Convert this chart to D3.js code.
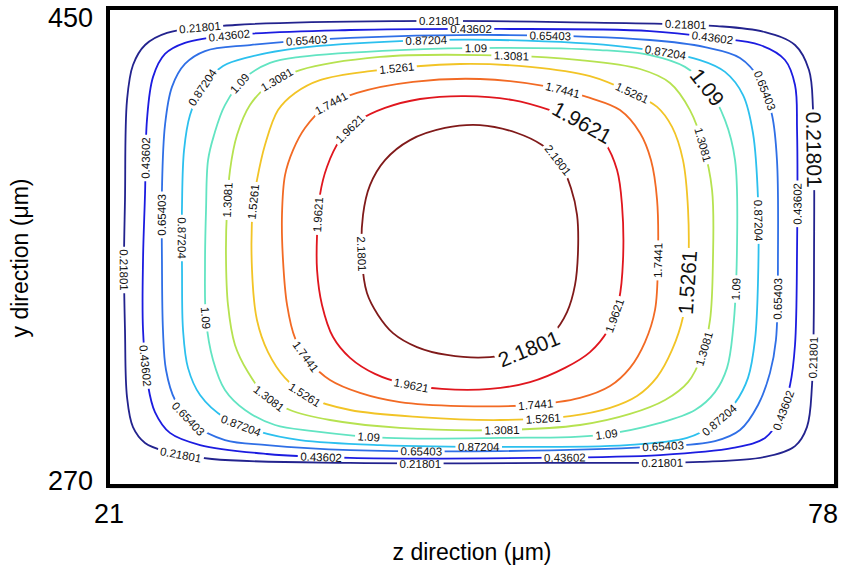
<!DOCTYPE html>
<html>
<head>
<meta charset="utf-8">
<script src="https://cdn.jsdelivr.net/npm/d3@7"></script>
<style>
  body { margin: 0; background: #fff; }
  svg { display: block; }
</style>
</head>
<body>
<script>
// Axis extents and tick labels
const zTicks = [21, 78];
const yTicks = [270, 450];
const xTitle = "z direction (\u03bcm)";
const yTitle = "y direction (\u03bcm)";

// Contour levels
const levels = [0.21801, 0.43602, 0.65403, 0.87204, 1.09, 1.3081, 1.5261, 1.7441, 1.9621, 2.1801];

// Closed contour paths, [z (um), y (um)] vertices, one array per level
const c021801 = [[22.18,377.9],[22.34,415.8],[22.81,429.1],[23.76,436.7],[25.49,441.3],[30.84,444.3],[43.83,445.8],[56.43,445.4],[68.79,443.9],[72.57,441.6],[74.93,436.7],[76.03,427.2],[76.35,412.0],[76.43,358.9],[76.27,307.6],[75.87,291.6],[74.93,284.4],[72.57,280.3],[67.45,278.4],[55.64,278.0],[39.90,278.0],[29.03,279.5],[25.33,282.5],[23.76,285.6],[22.81,291.6],[22.34,303.0],[22.18,328.5],[22.10,353.2]];
const c043602 = [[23.76,380.5],[23.91,408.2],[24.39,424.6],[25.33,433.3],[26.90,437.5],[30.68,440.5],[39.90,442.4],[51.70,442.8],[63.51,442.0],[68.63,439.4],[72.17,436.7],[74.14,431.0],[74.93,421.5],[75.09,404.4],[75.09,358.9],[74.93,322.8],[74.54,307.6],[73.75,295.1],[72.57,287.5],[70.05,283.7],[64.30,281.0],[54.07,279.9],[39.90,279.9],[33.36,281.4],[28.09,284.8],[25.72,289.4],[24.54,297.3],[23.99,307.6],[23.60,328.5],[23.60,355.1]];
const c065403 = [[25.09,381.6],[25.33,406.3],[25.88,420.8],[26.90,429.5],[28.48,434.4],[32.02,436.7],[39.90,439.4],[51.70,440.5],[63.51,438.6],[67.84,435.9],[70.60,431.8],[72.17,423.4],[73.12,410.1],[73.51,393.0],[73.59,358.9],[73.43,324.7],[72.96,312.2],[72.02,300.0],[70.60,290.5],[68.63,286.3],[63.51,284.1],[51.70,282.5],[39.90,282.9],[33.36,284.8],[30.05,286.7],[27.69,292.4],[26.12,301.9],[25.41,313.3],[25.17,328.5],[25.09,355.1]];
const c087204 = [[26.67,376.0],[26.83,396.8],[27.30,410.1],[28.24,420.4],[29.90,428.7],[32.02,432.2],[35.96,435.6],[43.83,438.2],[51.70,438.6],[61.70,435.9],[67.45,431.0],[69.42,426.5],[70.84,417.7],[71.62,403.3],[72.02,377.9],[72.02,347.5],[71.78,324.7],[71.23,310.3],[70.21,300.8],[68.47,292.4],[66.43,287.5],[61.70,284.8],[51.70,284.1],[42.26,284.8],[35.96,286.7],[32.81,289.8],[30.05,295.1],[28.09,303.8],[27.14,314.1],[26.75,328.5],[26.67,351.3]];
const c109 = [[28.56,374.1],[28.72,393.0],[29.19,402.5],[30.05,413.9],[31.63,424.2],[33.60,429.9],[35.96,432.2],[43.83,434.8],[51.70,435.6],[59.58,434.8],[63.51,432.9],[66.27,428.4],[68.08,420.4],[69.42,408.2],[70.21,393.0],[70.36,358.9],[70.05,328.5],[69.58,314.1],[68.63,304.9],[67.06,298.1],[64.30,293.2],[59.58,288.6],[51.70,287.5],[42.81,287.5],[36.98,290.1],[33.99,292.4],[31.63,298.1],[30.05,305.7],[29.11,317.1],[28.56,332.3],[28.48,353.2]];
const c13081 = [[30.21,374.1],[30.45,389.2],[31.00,402.5],[32.02,413.9],[33.60,421.9],[35.96,427.2],[42.26,432.2],[50.13,432.9],[58.00,431.0],[62.73,427.6],[65.09,422.3],[66.66,412.0],[67.69,398.7],[68.40,381.6],[68.47,355.1],[68.24,332.3],[67.61,319.0],[66.51,308.7],[64.70,301.9],[61.94,296.6],[58.00,292.4],[51.70,290.5],[43.83,291.3],[38.32,294.3],[35.17,298.1],[33.20,303.8],[31.86,312.5],[30.84,322.8],[30.29,338.0],[30.13,357.0]];
const c15261 = [[32.26,376.0],[32.57,385.4],[33.20,398.7],[34.23,412.0],[35.57,418.5],[37.53,423.4],[41.47,426.8],[48.56,429.5],[54.07,428.4],[58.79,424.9],[61.94,418.9],[64.07,413.2],[65.25,405.6],[66.11,393.0],[66.51,374.1],[66.51,351.3],[66.11,333.4],[65.25,320.9],[64.07,310.6],[62.49,303.4],[60.37,298.9],[57.22,295.8],[51.70,294.3],[45.41,295.4],[39.90,298.1],[36.75,302.7],[34.78,310.3],[33.44,320.1],[32.57,332.3],[32.18,351.3]];
const c17441 = [[34.54,372.2],[34.78,387.3],[35.41,396.8],[36.35,405.2],[37.93,413.2],[40.45,418.5],[44.86,422.7],[50.13,423.8],[55.25,421.1],[58.79,416.6],[61.15,412.0],[62.73,403.3],[63.59,393.0],[64.07,377.9],[64.14,355.1],[63.91,336.1],[63.12,323.9],[61.94,314.1],[60.37,307.2],[58.00,302.7],[54.07,300.0],[48.56,299.6],[43.83,301.1],[40.68,304.6],[38.32,309.5],[36.75,316.3],[35.57,325.4],[34.94,338.0],[34.62,355.1]];
const c19621 = [[37.30,364.6],[37.53,379.8],[38.08,390.4],[39.11,400.6],[40.68,408.2],[42.65,412.8],[45.41,416.2],[48.95,417.3],[52.73,415.8],[55.64,412.0],[58.40,406.7],[59.97,399.5],[60.92,389.2],[61.31,376.0],[61.39,355.1],[61.07,339.9],[60.21,328.5],[58.79,320.1],[56.82,314.1],[54.07,308.7],[50.92,306.1],[47.14,306.1],[44.23,308.0],[41.86,311.8],[39.90,317.9],[38.56,325.8],[37.69,338.0],[37.30,351.3]];
const c21801 = [[50.13,406.3],[53.04,403.3],[55.01,398.7],[56.43,391.9],[57.29,382.4],[57.77,372.2],[57.85,358.9],[57.61,345.6],[56.98,335.3],[55.88,327.3],[54.07,321.6],[50.92,318.2],[47.53,319.0],[45.17,322.0],[43.28,327.3],[42.10,334.2],[41.23,342.5],[40.84,355.1],[40.92,372.2],[41.47,383.5],[42.65,393.0],[44.62,400.6],[47.37,405.2]];
const contours = [c021801, c043602, c065403, c087204, c109, c13081, c15261, c17441, c19621, c21801];

// Inline level labels: [level index, z, y]
const labelSpots = [
  [0,28.09,442.0],[0,46.98,446.2],[0,66.27,444.3],[0,76.35,317.9],[0,64.46,278.0],[0,45.41,277.6],[0,26.51,281.0],[0,22.10,351.3],
  [1,30.45,439.4],[1,49.42,442.4],[1,68.47,440.1],[1,75.09,376.7],[1,74.14,298.1],[1,56.82,279.9],[1,37.69,280.3],[1,23.76,314.8],[1,23.83,393.8],
  [2,36.51,438.6],[2,55.64,440.5],[2,72.57,419.6],[2,73.59,340.6],[2,64.62,284.1],[2,45.56,282.2],[2,27.30,295.1],[2,25.17,372.2],
  [3,45.96,438.2],[3,64.70,433.7],[3,72.02,370.3],[3,68.79,294.7],[3,49.97,284.1],[3,31.23,291.6],[3,26.67,363.4],[3,28.56,420.0],
  [4,49.82,435.6],[4,70.36,344.4],[4,60.13,288.6],[4,41.31,287.9],[4,28.48,333.0],[4,31.23,421.9],
  [5,52.65,432.2],[5,34.38,421.1],[5,30.29,377.9],[5,33.60,303.4],[5,51.86,290.1],[5,67.69,321.6],[5,67.77,398.7],
  [6,43.67,427.2],[6,62.10,418.9],[6,55.09,294.7],[6,36.35,304.6],[6,32.42,377.1],
  [7,38.56,413.9],[7,56.59,419.2],[7,64.14,355.1],[7,54.46,300.4],[7,36.35,317.9],
  [8,40.13,403.3],[8,60.76,334.2],[8,44.78,307.6],[8,37.38,372.2],
  [9,55.88,391.9],[9,40.68,357.7]
];
// Labels set in the larger type
const largeLabelSpots = [[0,76.27,396.8],[4,67.69,419.2],[6,66.66,346.3],[8,58.40,409.4],[9,53.83,322.8]];

const lineColors = ["#23238e","#1c1ce0","#2f6fe6","#2cc0ee","#62e4c2","#b6e250","#f2c426","#f26a24","#e0161e","#801a1a"];

const W = 845, H = 572;
const svg = d3.select("body").append("svg")
  .attr("width", W).attr("height", H)
  .style("font-family", "'Liberation Sans', Arial, Helvetica, sans-serif");

const x = d3.scaleLinear().domain(zTicks).range([110, 834]);
const y = d3.scaleLinear().domain(yTicks).range([484, 10]);

const line = d3.line()
  .x(d => x(d[0]))
  .y(d => y(d[1]))
  .curve(d3.curveCatmullRomClosed.alpha(0.5));

const defs = svg.append("defs");
const masks = contours.map((_, i) => {
  const m = defs.append("mask").attr("id", "gap" + i)
    .attr("maskUnits", "userSpaceOnUse")
    .attr("x", 0).attr("y", 0).attr("width", W).attr("height", H);
  m.append("rect").attr("x", 0).attr("y", 0).attr("width", W).attr("height", H).attr("fill", "#fff");
  return m;
});

const plot = svg.append("g");
const paths = contours.map((pts, i) =>
  plot.append("path")
    .attr("d", line(pts))
    .attr("fill", "none")
    .attr("stroke", lineColors[i])
    .attr("stroke-width", 1.8)
    .attr("stroke-linejoin", "round")
    .attr("mask", `url(#gap${i})`)
);

// Sample each contour once so labels can be snapped onto it cheaply
const samples = paths.map(p => {
  const node = p.node();
  const total = node.getTotalLength();
  const n = Math.ceil(total / 2);
  const pts = [];
  for (let k = 0; k < n; k++) {
    const q = node.getPointAtLength(k * total / n);
    pts.push([q.x, q.y]);
  }
  return pts;
});

const labelLayer = svg.append("g");

function placeLabel(spot, fontSize) {
  const [li, zv, yv] = spot;
  const pts = samples[li];
  const n = pts.length;
  const tx = x(zv), ty = y(yv);
  let best = 0, bestD = Infinity;
  pts.forEach((q, k) => {
    const d = (q[0] - tx) ** 2 + (q[1] - ty) ** 2;
    if (d < bestD) { bestD = d; best = k; }
  });
  const p = pts[best];
  const a = pts[(best - 2 + n) % n];
  const b = pts[(best + 2) % n];
  let ang = Math.atan2(b[1] - a[1], b[0] - a[0]) * 180 / Math.PI;
  if (ang > 90) ang -= 180;
  if (ang <= -90) ang += 180;
  const tf = `translate(${p[0].toFixed(2)},${p[1].toFixed(2)}) rotate(${ang.toFixed(1)})`;
  const t = labelLayer.append("text")
    .attr("transform", tf)
    .attr("text-anchor", "middle")
    .attr("dy", "0.36em")
    .attr("font-size", fontSize)
    .attr("fill", "#111")
    .text(String(levels[li]));
  const w = t.node().getComputedTextLength();
  masks[li].append("rect")
    .attr("transform", tf)
    .attr("x", -w / 2 - 2.5).attr("y", -fontSize * 0.5)
    .attr("width", w + 5).attr("height", fontSize)
    .attr("fill", "#000");
}
labelSpots.forEach(s => placeLabel(s, 11.5));
largeLabelSpots.forEach(s => placeLabel(s, 21));

// Frame, with a faint shadow along the lower and right edges
svg.append("path")
  .attr("d", `M${x.range()[0]},${y.range()[0] + 3.5}H${x.range()[1] + 3.5}V${y.range()[1]}`)
  .attr("fill", "none").attr("stroke", "#9a9a9a").attr("stroke-width", 1.5);
svg.append("rect")
  .attr("x", x.range()[0] - 2).attr("y", y.range()[1] - 2)
  .attr("width", x.range()[1] - x.range()[0] + 4)
  .attr("height", y.range()[0] - y.range()[1] + 4)
  .attr("fill", "none").attr("stroke", "#000").attr("stroke-width", 4);

// Tick labels
const tickFont = 27;
svg.append("g").selectAll("text").data(yTicks).join("text")
  .attr("x", x(zTicks[0]) - 17)
  .attr("y", d => y(d))
  .attr("dy", (d, i) => i === yTicks.length - 1 ? "0.63em" : "0.22em")
  .attr("text-anchor", "end")
  .attr("font-size", tickFont)
  .text(d => d);
svg.append("g").selectAll("text").data(zTicks).join("text")
  .attr("x", (d, i) => i === zTicks.length - 1 ? x(d) + 4 : x(d) - 1)
  .attr("y", y(yTicks[0]) + 39)
  .attr("text-anchor", (d, i) => i === zTicks.length - 1 ? "end" : "middle")
  .attr("font-size", tickFont)
  .text(d => d);

// Axis titles
svg.append("text")
  .attr("x", 472).attr("y", 560)
  .attr("text-anchor", "middle")
  .attr("font-size", 23)
  .text(xTitle);
svg.append("text")
  .attr("transform", "translate(28,258) rotate(-90)")
  .attr("text-anchor", "middle")
  .attr("font-size", 23)
  .text(yTitle);
</script>
</body>
</html>
